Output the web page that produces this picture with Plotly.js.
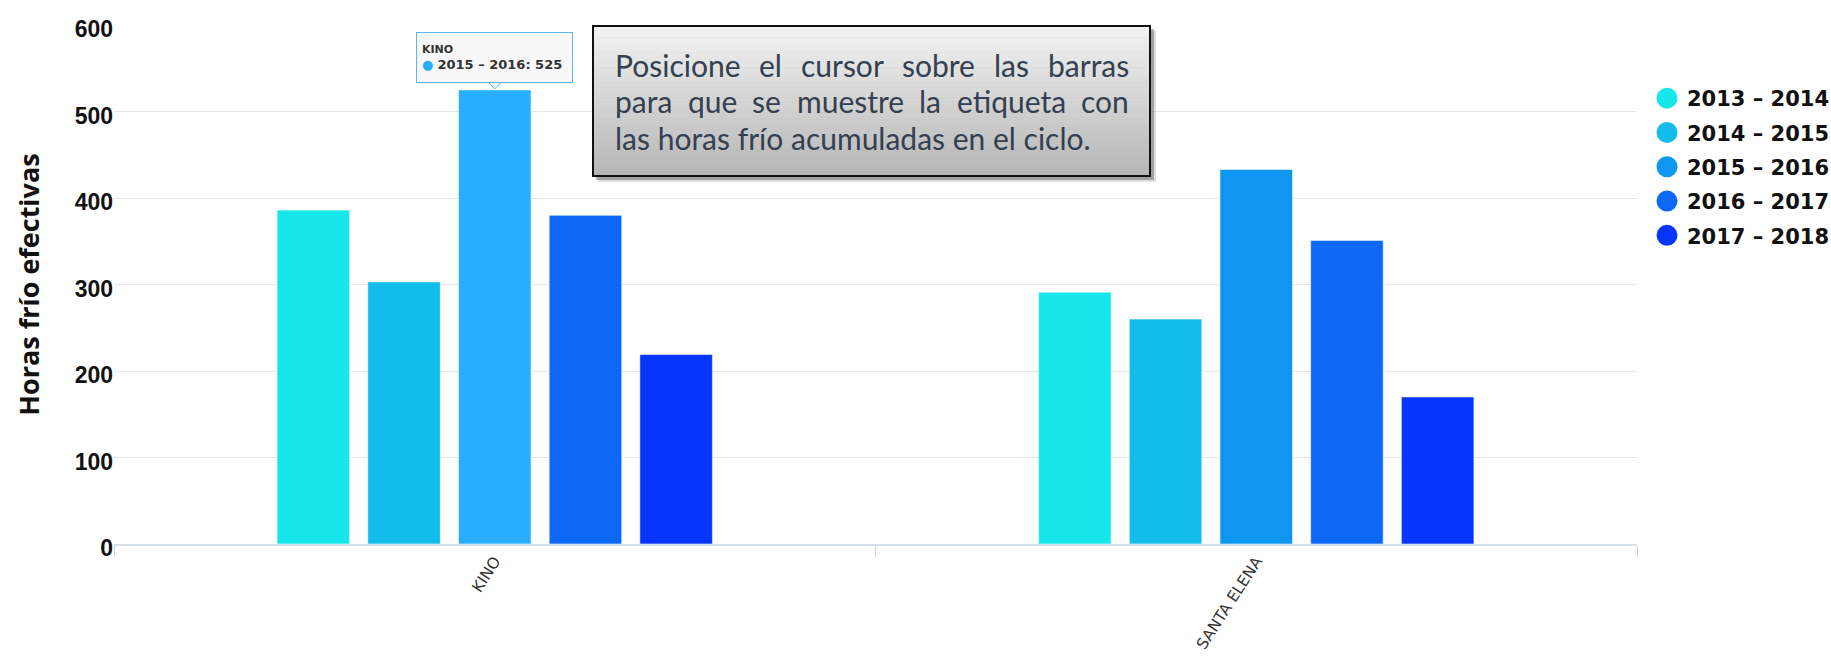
<!DOCTYPE html>
<html><head><meta charset="utf-8">
<script src="https://cdn.plot.ly/plotly-3.0.1.min.js"></script>
<style>html,body{margin:0;padding:0;background:#fff;} #chart{width:1831px;height:658px;}</style>
</head><body><div id="chart"></div>
<script>
// ---------- data ----------
const categories = ['KINO', 'SANTA ELENA'];
const seriesNames = ['2013 – 2014', '2014 – 2015', '2015 – 2016', '2016 – 2017', '2017 – 2018'];
const v2013_2014 = [386, 291];
const v2014_2015 = [303, 260];
const v2015_2016 = [525, 433];
const v2016_2017 = [380, 351];
const v2017_2018 = [219, 170];
const seriesValues = [v2013_2014, v2014_2015, v2015_2016, v2016_2017, v2017_2018];
const yTickVals = [0, 100, 200, 300, 400, 500, 600];
const yTitle = 'Horas frío efectivas';
const noteLines = ['Posicione el cursor sobre las barras', 'para que se muestre la etiqueta con', 'las horas frío acumuladas en el ciclo.'];
const tooltipSeries = 2;   // hovered series index
const tooltipPoint = 0;    // hovered category index

// ---------- style ----------
const colors = ['#17e7ea', '#12bdec', '#0e96f0', '#0c68f5', '#0635fb'];
const hoverColor = '#29aeff';
const W = 1831, H = 658, L = 114, R = 1637, T = 25, B = 544;
const px = x => (x - L) / (R - L);
const py = y => (B - y) / (B - T);

// ---------- traces ----------
const traces = [];
seriesValues.forEach((vals, i) => {
  const cols = vals.map((v, j) => (i === tooltipSeries && j === tooltipPoint) ? hoverColor : colors[i]);
  traces.push({
    type: 'bar', name: seriesNames[i], x: categories, y: vals,
    marker: {color: cols, line: {color: 'rgba(255,255,255,0.55)', width: 1}},
    showlegend: false, hoverinfo: 'skip'
  });
});
seriesNames.forEach((n, i) => {
  traces.push({
    type: 'scatter', mode: 'markers', name: n, x: [null], y: [null],
    legendgroup: 'g' + i,
    marker: {color: colors[i], size: 16, line: {color: colors[i], width: 5}},
    hoverinfo: 'skip'
  });
});

// ---------- note box shapes ----------
const shapes = [];
const bx0 = 593, bx1 = 1150, by0 = 26, by1 = 176;
shapes.push({type: 'rect', xref: 'paper', yref: 'paper', x0: px(bx0 + 5), x1: px(bx1 + 6), y0: py(by0 + 5), y1: py(by1 + 6), fillcolor: 'rgba(0,0,0,0.12)', line: {width: 0}, layer: 'above'});
shapes.push({type: 'rect', xref: 'paper', yref: 'paper', x0: px(bx0 + 3), x1: px(bx1 + 4), y0: py(by0 + 3), y1: py(by1 + 4), fillcolor: 'rgba(0,0,0,0.28)', line: {width: 0}, layer: 'above'});
const N = 40;
for (let k = 0; k < N; k++) {
  const t = k / (N - 1);
  const c = Math.round(242 - t * (242 - 182));
  const ya = by0 + (by1 - by0) * k / N, yb = by0 + (by1 - by0) * (k + 1) / N + 0.6;
  shapes.push({type: 'rect', xref: 'paper', yref: 'paper', x0: px(bx0), x1: px(bx1), y0: py(ya), y1: py(Math.min(yb, by1)),
    fillcolor: `rgb(${c},${c},${c})`, line: {width: 0}, layer: 'above'});
}
shapes.push({type: 'rect', xref: 'paper', yref: 'paper', x0: px(bx0), x1: px(bx1), y0: py(by0), y1: py(by1), fillcolor: 'rgba(0,0,0,0)', line: {color: '#111', width: 2}, layer: 'above'});

// tooltip pointer
shapes.push({type: 'path', xref: 'x', yref: 'y', xsizemode: 'pixel', ysizemode: 'pixel',
  xanchor: tooltipPoint, yanchor: seriesValues[tooltipSeries][tooltipPoint],
  path: 'M-7,8 L0,1 L7,8 Z', fillcolor: '#f7f7f7', line: {color: '#5eb4f2', width: 1}, layer: 'above'});

// ---------- annotations ----------
const annotations = [];
const ctx = document.createElement('canvas').getContext('2d');
const noteFont = {family: 'Lato', size: 30, color: '#34404f'};
ctx.font = noteFont.size + 'px ' + noteFont.family;
const tx0 = 615, tx1 = 1129, lineY = [65, 101, 138];
noteLines.forEach((line, li) => {
  const justify = li < noteLines.length - 1;
  if (!justify) {
    annotations.push({xref: 'paper', yref: 'paper', x: px(tx0), y: py(lineY[li]), xanchor: 'left', yanchor: 'middle',
      text: line, showarrow: false, font: noteFont, borderpad: 0, borderwidth: 0});
    return;
  }
  const words = line.split(' ');
  const ws = words.map(w => ctx.measureText(w).width);
  const total = ws.reduce((a, b) => a + b, 0);
  const gap = (tx1 - tx0 - total) / (words.length - 1);
  let x = tx0;
  words.forEach((w, i) => {
    annotations.push({xref: 'paper', yref: 'paper', x: px(x), y: py(lineY[li]), xanchor: 'left', yanchor: 'middle',
      text: w, showarrow: false, font: noteFont, borderpad: 0, borderwidth: 0});
    x += ws[i] + gap;
  });
});

const tv = seriesValues[tooltipSeries][tooltipPoint];
annotations.push({
  xref: 'x', yref: 'y', x: categories[tooltipPoint], y: tv, xanchor: 'center', yanchor: 'bottom', yshift: 7,
  showarrow: false, width: 145, height: 39, borderpad: 5, bgcolor: '#f7f7f7', bordercolor: '#5eb4f2', borderwidth: 1,
  align: 'left', valign: 'middle',
  text: `<span style="font-size:11px"><b>${categories[tooltipPoint]}</b></span><br><span style="color:${hoverColor}">●</span> <b>${seriesNames[tooltipSeries]}: ${tv}</b>`,
  font: {family: 'DejaVu Sans', size: 13, color: '#333'}
});

// ---------- layout ----------
const layout = {
  width: W, height: H,
  margin: {l: L, r: W - R, t: T, b: H - B, pad: 0, autoexpand: false},
  paper_bgcolor: '#fff', plot_bgcolor: '#fff',
  barmode: 'group', bargap: 0.4045, bargroupgap: 0.2,
  showlegend: true,
  legend: {x: px(1647), xanchor: 'left', y: py(78), yanchor: 'top', itemwidth: 30, tracegroupgap: 4,
    font: {family: 'DejaVu Sans', size: 21, weight: 'bold', color: '#111'}, bgcolor: 'rgba(0,0,0,0)', borderwidth: 0},
  xaxis: {type: 'category', categoryarray: categories, range: [-0.5, 1.5], fixedrange: true,
    tickson: 'boundaries', ticks: 'outside', ticklen: 11, tickcolor: '#ccd6eb', tickwidth: 1,
    showline: true, linecolor: '#d8dfec', linewidth: 2, showgrid: false, zeroline: false,
    tickangle: -57, tickfont: {family: 'DejaVu Sans', size: 15.5, color: '#333'}},
  yaxis: {range: [0, 600], tickvals: yTickVals, ticktext: yTickVals.map(String), showgrid: true, gridcolor: '#e6e6e6', gridwidth: 1,
    zeroline: false, showline: false, ticks: '', ticklabelstandoff: 0, ticklabelshift: 4,
    tickfont: {family: 'Liberation Sans', size: 23, weight: 'bold', color: '#111'},
    title: {text: yTitle, standoff: 27, font: {family: 'Open Sans', size: 27, weight: 'bold', color: '#111'}}},
  shapes: shapes, annotations: annotations
};

Plotly.newPlot('chart', traces, layout, {displayModeBar: false, staticPlot: true});
</script>
</body></html>
